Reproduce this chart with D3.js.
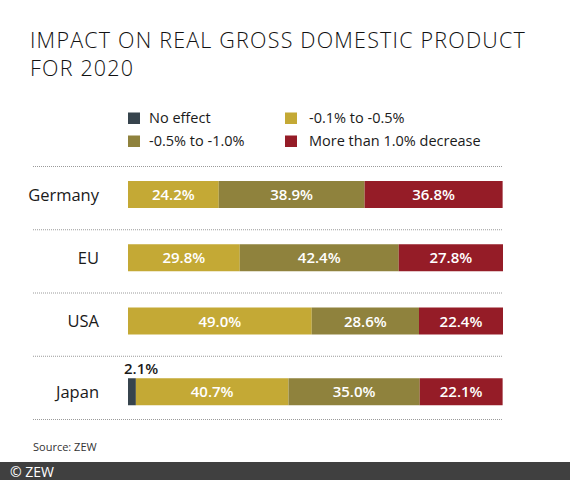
<!DOCTYPE html>
<html>
<head>
<meta charset="utf-8">
<script src="https://cdn.jsdelivr.net/npm/d3@7/dist/d3.min.js"></script>
<style>
  body { margin: 0; background: #fff; }
  svg { display: block; font-family: "Open Sans", "DejaVu Sans", sans-serif; }
</style>
</head>
<body>
<div id="chart"></div>
<script>
// data
const countries = ["Germany", "EU", "USA", "Japan"];
const categories = ["No effect", "-0.1% to -0.5%", "-0.5% to -1.0%", "More than 1.0% decrease"];
const noEffect = [0, 0, 0, 2.1];
const slight = [24.2, 29.8, 49.0, 40.7];
const moderate = [38.9, 42.4, 28.6, 35.0];
const strong = [36.8, 27.8, 22.4, 22.1];
const colors = ["#37444d", "#c4a935", "#8f823d", "#951c27"];

const W = 570, H = 480;
const svg = d3.select("#chart").append("svg")
    .attr("width", W)
    .attr("height", H);

// title
const title = svg.append("text")
    .attr("font-size", 21.5)
    .attr("font-weight", 300)
    .attr("letter-spacing", 1.2)
    .attr("fill", "#111");
title.append("tspan").attr("x", 30).attr("y", 48).text("IMPACT ON REAL GROSS DOMESTIC PRODUCT");
title.append("tspan").attr("x", 30).attr("y", 76).text("FOR 2020");

// legend, two columns
const legendPos = [[128, 112.5, 21], [285, 112.5, 24], [128, 135.5, 21], [285, 135.5, 24]];
const leg = svg.append("g").selectAll("g")
    .data(categories)
    .join("g")
    .attr("transform", (d, i) => `translate(${legendPos[i][0]},${legendPos[i][1]})`);
leg.append("rect")
    .attr("width", 12).attr("height", 11.5)
    .attr("fill", (d, i) => colors[i]);
leg.append("text")
    .attr("x", (d, i) => legendPos[i][2])
    .attr("y", 10.5)
    .attr("font-size", 14.5)
    .attr("fill", "#1a1a1a")
    .text(d => d);

// scales
const x = d3.scaleLinear().domain([0, 100]).range([128, 503]);
const y = d3.scaleBand().domain(countries).range([166, 419]).paddingInner(0);
const barH = 27;

// stack
const rows = countries.map((c, i) => ({
    country: c,
    values: [noEffect[i], slight[i], moderate[i], strong[i]]
}));
const stacked = d3.stack().keys([0, 1, 2, 3]).value((d, k) => d.values[k])(rows);

// row with a tiny leading segment carries its label above, so it sits lower
const barTop = (d) => y(d.country) + 15 + (d.values[0] > 0 ? 7.5 : 0);

// dotted separators
svg.append("g").selectAll("line")
    .data([...countries.map(c => y(c)), y.range()[1]])
    .join("line")
    .attr("x1", 33).attr("x2", 503)
    .attr("y1", d => d + 0.5).attr("y2", d => d + 0.5)
    .attr("stroke", "#9a9a9a")
    .attr("stroke-width", 1)
    .attr("stroke-dasharray", "1,1");

// bars
const layers = svg.append("g").selectAll("g")
    .data(stacked)
    .join("g")
    .attr("fill", (d, i) => colors[i]);
layers.selectAll("rect")
    .data(d => d)
    .join("rect")
    .attr("x", d => x(d[0]))
    .attr("width", d => x(d[1]) - x(d[0]))
    .attr("y", d => barTop(d.data))
    .attr("height", barH);

// value labels
stacked.forEach((layer, k) => {
    svg.append("g").selectAll("text")
        .data(layer.filter(d => d[1] - d[0] > 0))
        .join("text")
        .attr("x", d => k === 0 ? x(d[0]) - 4 : (x(d[0]) + x(d[1])) / 2)
        .attr("y", d => k === 0 ? barTop(d.data) - 4 : barTop(d.data) + barH / 2 + 5.5)
        .attr("text-anchor", k === 0 ? "start" : "middle")
        .attr("font-size", 15)
        .attr("font-weight", 600)
        .attr("fill", k === 0 ? "#1a1a1a" : "#fff")
        .text(d => d.data.values[k].toFixed(1) + "%");
});

// country labels
svg.append("g").selectAll("text")
    .data(rows)
    .join("text")
    .attr("x", 99)
    .attr("y", d => barTop(d) + barH / 2 + 6)
    .attr("text-anchor", "end")
    .attr("font-size", 16.5)
    .attr("fill", "#1a1a1a")
    .text(d => d.country);

// source
svg.append("text")
    .attr("x", 33).attr("y", 451)
    .attr("font-size", 11)
    .attr("fill", "#333")
    .text("Source: ZEW");

// footer band
svg.append("rect")
    .attr("x", 0).attr("y", 462)
    .attr("width", W).attr("height", 18)
    .attr("fill", "#404040");
svg.append("text")
    .attr("x", 10).attr("y", 476.5)
    .attr("font-size", 14)
    .attr("fill", "#fff")
    .text("© ZEW");
</script>
</body>
</html>
